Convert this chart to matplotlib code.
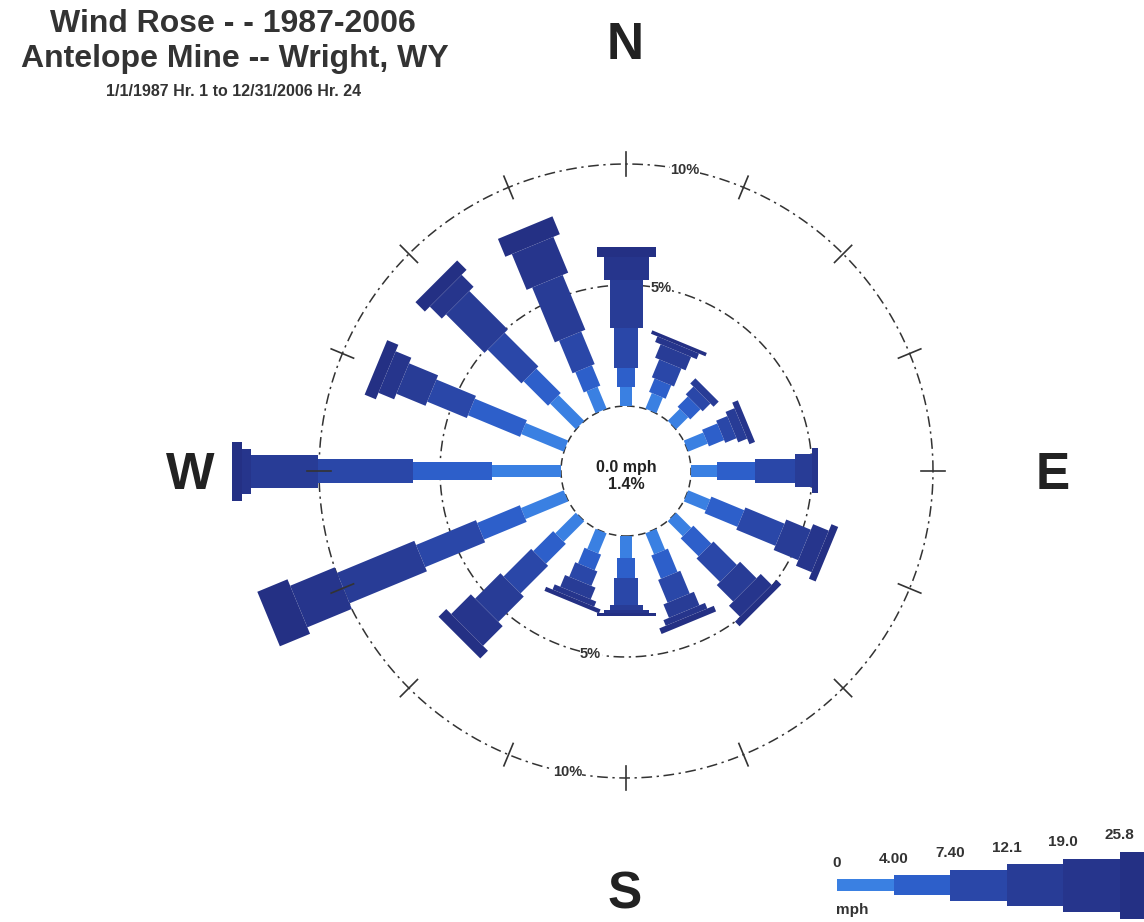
import matplotlib.pyplot as plt
import numpy as np
from matplotlib.transforms import Affine2D
from matplotlib.patches import Circle

plt.rcParams['font.family'] = ['Liberation Sans', 'DejaVu Sans']
plt.rcParams['font.weight'] = 'bold'

# 16 compass sectors, clockwise from north
directions = ['N', 'NNE', 'NE', 'ENE', 'E', 'ESE', 'SE', 'SSE',
              'S', 'SSW', 'SW', 'WSW', 'W', 'WNW', 'NW', 'NNW']
bearings = np.arange(16) * 22.5

# frequency (%) of each speed class per direction
spd_0_4 = [0.79, 0.70, 0.70, 0.87, 1.07, 0.98, 0.88, 0.94,
           0.91, 0.90, 1.20, 1.91, 2.85, 1.90, 1.50, 0.98]
spd_4_74 = [0.78, 0.60, 0.60, 0.68, 1.57, 1.47, 1.05, 1.04,
            0.83, 0.70, 1.16, 1.91, 3.27, 2.33, 1.43, 0.91]
spd_74_121 = [1.65, 0.80, 0.45, 0.50, 1.66, 1.75, 1.37, 1.02,
              1.11, 0.65, 1.61, 2.68, 3.92, 1.77, 1.97, 1.46]
spd_121_19 = [1.99, 0.60, 0.30, 0.40, 0.70, 1.10, 0.96, 0.60,
              0.21, 0.52, 1.48, 3.46, 2.76, 1.30, 2.25, 2.45]
spd_19_258 = [0.95, 0.25, 0.00, 0.25, 0.25, 0.70, 0.64, 0.25,
              0.12, 0.23, 1.15, 1.99, 0.40, 0.70, 0.70, 1.60]
spd_258_up = [0.41, 0.15, 0.00, 0.00, 0.00, 0.30, 0.27, 0.25,
              0.12, 0.18, 0.45, 1.35, 0.40, 0.50, 0.55, 0.80]
calm_pct = 1.4

speed_bins = ['0', '4.00', '7.40', '12.1', '19.0', '25.8']
ring_pcts = [5, 10]

colors = ['#3a80e2', '#2d5fca', '#2a47a8', '#283c96', '#26358c', '#243084']
bar_w = np.array([12, 18, 24, 33, 45, 59]) / 24.2       # bar thickness per class
key_h = np.array([12, 20, 31, 42, 53, 67]) / 24.2       # key thickness per class

PX = 24.2          # pixels per percent
R0 = 65 / PX       # calm circle radius
cx, cy = 626, 471  # rose centre in pixels


def px(x, y):
    """pixel position -> data units"""
    return (x - cx) / PX, (cy - y) / PX


fig = plt.figure(figsize=(11.44, 9.22), dpi=100)
ax = fig.add_axes([0, 0, 1, 1])
ax.axis('off')

freq = np.array([spd_0_4, spd_4_74, spd_74_121, spd_121_19, spd_19_258, spd_258_up])
starts = R0 + np.vstack([np.zeros(16), np.cumsum(freq, axis=0)[:-1]])

# bars: one horizontal stacked bar per sector, rotated into place
for i, b in enumerate(bearings):
    rot = Affine2D().rotate_deg(90 - b) + ax.transData
    ax.barh(np.zeros(6), freq[:, i], left=starts[:, i], height=bar_w,
            color=colors, linewidth=0, transform=rot, zorder=2)

# percentage rings
t = np.linspace(0, 2 * np.pi, 500)
for p in ring_pcts:
    r = R0 + p
    ax.plot(r * np.cos(t), r * np.sin(t), color='#333333', lw=1.1,
            ls=(0, (7, 3, 1.5, 3)), zorder=1)
    for brg in (11, 191):
        a = np.deg2rad(90 - brg)
        ax.text(r * np.cos(a), r * np.sin(a), f'{p}%', fontsize=10.5, color='#333333',
                ha='center', va='center', zorder=5,
                bbox=dict(fc='white', ec='none', pad=0.3))

# direction ticks on the outer ring
r10 = R0 + 10
for b in bearings:
    a = np.deg2rad(90 - b)
    ax.plot([(r10 - 0.5) * np.cos(a), (r10 + 0.5) * np.cos(a)],
            [(r10 - 0.5) * np.sin(a), (r10 + 0.5) * np.sin(a)],
            color='#333333', lw=1.2, zorder=4)

# calm circle
ax.add_patch(Circle((0, 0), R0, fc='white', ec='#333333', lw=1.1,
                    ls=(0, (5, 3)), zorder=1.5))
ax.text(*px(626, 476), f'0.0 mph\n{calm_pct}%', ha='center', va='center', fontsize=11.5,
        color='#222222', linespacing=1.2, zorder=5)

# compass letters
for lab, (x, y) in zip(['N', 'E', 'S', 'W'], [(625, 45), (1053, 475), (625, 895), (190, 475)]):
    ax.text(*px(x, y), lab, fontsize=37, ha='center', va='center', color='#222222')

# speed key
k0, kl = 837, 56.5
for j in range(6):
    x0, y0 = px(k0 + j * kl, 885)
    ax.barh(y0, kl / PX, left=x0, height=key_h[j], color=colors[j], linewidth=0)
    ax.text(x0, y0 + key_h[j] / 2 + 0.68, speed_bins[j], fontsize=11,
            ha='center', va='center', color='#333333')
ax.text(*px(836, 910), 'mph', fontsize=11, ha='left', va='center', color='#333333')

# titles
fig.text(233 / 1144, 1 - 24 / 922, 'Wind Rose - - 1987-2006', fontsize=23,
         ha='center', va='center', color='#333333')
fig.text(235 / 1144, 1 - 59 / 922, 'Antelope Mine -- Wright, WY', fontsize=23,
         ha='center', va='center', color='#333333')
fig.text(234 / 1144, 1 - 91 / 922, '1/1/1987 Hr. 1 to 12/31/2006 Hr. 24', fontsize=11.5,
         ha='center', va='center', color='#333333')

ax.set_xlim(-cx / PX, (1144 - cx) / PX)
ax.set_ylim(-(922 - cy) / PX, cy / PX)

fig.savefig('out.png', dpi=100, facecolor='white')
